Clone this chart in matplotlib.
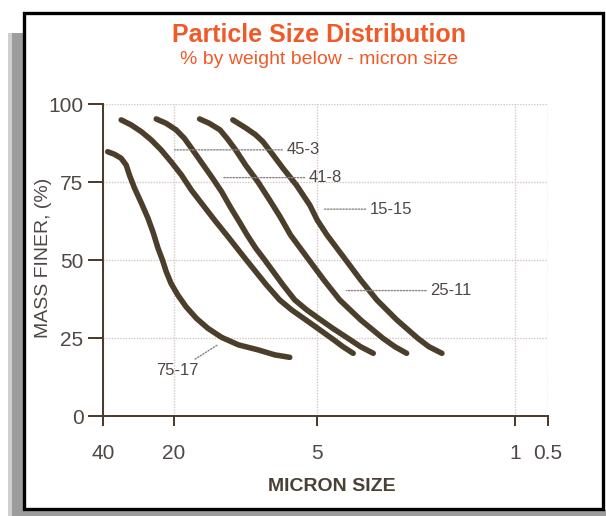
import numpy as np
import matplotlib
matplotlib.use("Agg")
import matplotlib.pyplot as plt
from matplotlib.patches import Rectangle

plt.rcParams['font.family'] = ['Liberation Sans', 'DejaVu Sans']

# ---------------- data (micron size, % mass finer) ----------------
size_75_17 = [38.2, 35.8, 33.5, 31.9, 30.9, 29.4, 27.5, 25.8, 24.5, 23.4, 22.4, 21.6, 20.6,
              19.3, 17.8, 16.1, 14.4, 12.6, 10.7, 8.85, 7.52, 6.50]
finer_75_17 = [84.7, 83.9, 82.6, 80.4, 77.2, 73.0, 68.2, 63.4, 58.7, 53.8, 50.0, 46.3, 42.5,
               38.8, 35.0, 31.3, 28.1, 25.2, 22.8, 21.2, 19.6, 18.8]

size_45_3 = [33.5, 30.4, 27.5, 25.0, 22.7, 20.6, 18.6, 16.9, 15.0, 13.4, 12.0, 9.91, 8.15,
             7.17, 6.38, 5.68, 4.96, 4.43, 4.04, 3.72]
finer_45_3 = [94.9, 93.3, 91.1, 88.5, 85.3, 81.5, 77.2, 72.4, 67.3, 62.5, 58.0, 50.0, 42.0,
              37.2, 34.0, 31.3, 28.1, 24.9, 22.2, 20.1]

size_41_8 = [23.8, 21.6, 19.6, 18.1, 16.7, 15.4, 13.9, 12.6, 11.5, 10.6, 9.83, 9.05, 8.29,
             6.94, 6.19, 5.51, 4.84, 4.39, 3.88, 3.50, 3.16]
finer_41_8 = [95.2, 93.8, 91.7, 89.0, 85.3, 81.5, 76.7, 71.9, 66.6, 62.2, 58.0, 53.8, 50.0,
              42.0, 37.2, 34.0, 30.8, 28.1, 24.9, 22.2, 20.1]

size_15_15 = [15.6, 14.2, 12.8, 11.9, 11.0, 9.98, 8.83, 7.90, 7.17, 6.45, 5.39, 4.72, 4.15,
              3.50, 2.92, 2.65, 2.41]
finer_15_15 = [95.2, 93.8, 91.7, 88.8, 85.3, 80.4, 74.9, 69.2, 64.1, 58.0, 50.0, 43.6, 37.2,
               30.8, 24.9, 22.2, 20.1]

size_25_11 = [11.3, 9.91, 9.05, 8.43, 7.65, 6.94, 6.09, 5.35, 4.98, 4.60, 3.95, 3.50, 3.07,
              2.61, 2.20, 2.01, 1.81]
finer_25_11 = [94.9, 92.2, 90.1, 87.9, 83.7, 79.4, 74.0, 67.6, 62.8, 58.0, 50.0, 43.6, 37.2,
               30.8, 24.9, 22.2, 20.1]

x_ticks = [40, 20, 5, 1, 0.5]
x_tick_labels = ["40", "20", "5", "1", "0.5"]
y_ticks = [0, 25, 50, 75, 100]
y_tick_labels = ["0", "25", "50", "75", "100"]

series_labels = ["75-17", "45-3", "41-8", "15-15", "25-11"]

# ---------------- styling / layout ----------------
curve_color = "#4b3f2c"
axis_color = "#4a3828"
text_color = "#4f4745"
title_color = "#F05A28"
grid_color = "#d6c7c0"

# positions of the printed tick marks along the (non-uniform) size axis
tick_pos = [0.0, 71.0, 213.5, 411.5, 444.5]
tick_key = -np.log10(np.array(x_ticks, dtype=float))


def fwd(x):
    x = np.clip(np.asarray(x, dtype=float), 1e-9, None)
    return np.interp(-np.log10(x), tick_key, tick_pos)


def inv(p):
    p = np.asarray(p, dtype=float)
    return 10 ** (-np.interp(p, tick_pos, tick_key))


fig = plt.figure(figsize=(6.06, 5.16), dpi=100)

# scanned-page frame and shadow
fig.patches.append(Rectangle((8 / 606, 0), 4 / 606, (516 - 33) / 516, transform=fig.transFigure,
                             facecolor="#cfcfcf", edgecolor="none", zorder=-3))
fig.patches.append(Rectangle((12 / 606, 0), 12 / 606, (516 - 33) / 516, transform=fig.transFigure,
                             facecolor="#9c9c9c", edgecolor="none", zorder=-3))
fig.patches.append(Rectangle((12 / 606, 0), 594 / 606, 6 / 516, transform=fig.transFigure,
                             facecolor="#9c9c9c", edgecolor="none", zorder=-3))
fig.patches.append(Rectangle((24.5 / 606, 7 / 516), (603 - 24.5) / 606, (503.5 - 7) / 516,
                             transform=fig.transFigure, facecolor="white", edgecolor="black",
                             linewidth=2.4, zorder=-2))

ax = fig.add_axes([103 / 606, (516 - 416) / 516, 445 / 606, 312 / 516])
ax.set_zorder(2)
ax.set_facecolor("none")
ax.set_xscale("function", functions=(fwd, inv))
ax.set_xlim(0.5, 40)
ax.set_ylim(0, 100)

ax.set_xticks(x_ticks)
ax.set_xticklabels(x_tick_labels)
ax.set_yticks(y_ticks)
ax.set_yticklabels(y_tick_labels)
ax.minorticks_off()
ax.grid(True, color=grid_color, linestyle=(0, (1, 1)), linewidth=1.0, zorder=0)

for s in ["top", "right"]:
    ax.spines[s].set_visible(False)
for s in ["left", "bottom"]:
    ax.spines[s].set_color(axis_color)
    ax.spines[s].set_linewidth(1.4)

ax.tick_params(axis="y", direction="out", length=11, width=1.4, color=axis_color,
               labelsize=15, labelcolor=text_color, pad=3)
ax.tick_params(axis="x", direction="out", length=7.5, width=1.4, color=axis_color,
               labelsize=15, labelcolor=text_color, pad=13)

curves = [
    (size_75_17, finer_75_17),
    (size_45_3, finer_45_3),
    (size_41_8, finer_41_8),
    (size_15_15, finer_15_15),
    (size_25_11, finer_25_11),
]
for xs, ys in curves:
    ax.plot(xs, ys, color=curve_color, linewidth=4.0, solid_capstyle="round",
            solid_joinstyle="round", zorder=3)

# leader labels: (label, point on chart, text position, ha)
annots = [
    ("45-3", (19.9, 85.3), (6.71, 85.3), "left"),
    ("41-8", (12.5, 76.4), (5.40, 76.4), "left"),
    ("15-15", (4.69, 66.3), (3.25, 66.3), "left"),
    ("25-11", (3.93, 40.2), (1.99, 40.2), "left"),
    ("75-17", (13.1, 22.8), (19.3, 14.7), "center"),
]
for lab, xy, xyt, ha in annots:
    ax.annotate(lab, xy=xy, xytext=xyt, ha=ha, va="center", fontsize=12, color=text_color,
                arrowprops=dict(arrowstyle="-", linestyle=(0, (1, 1.2)), color="#8c8484",
                                linewidth=1.0, shrinkA=1, shrinkB=0), zorder=4)

ax.set_ylabel("MASS FINER, (%)", fontsize=14, color=text_color)
ax.yaxis.set_label_coords(-0.115, 0.506)
ax.set_xlabel("MICRON SIZE", fontsize=14, fontweight="bold", color="#4a4035")
ax.xaxis.set_label_coords(0.515, -0.2)

fig.text(319 / 606, 1 - 35 / 516, "Particle Size Distribution", ha="center", va="center",
         fontsize=18, fontweight="bold", color=title_color)
fig.text(319 / 606, 1 - 59 / 516, "% by weight below - micron size", ha="center", va="center",
         fontsize=14, color=title_color)

fig.savefig("out.png", dpi=100)
